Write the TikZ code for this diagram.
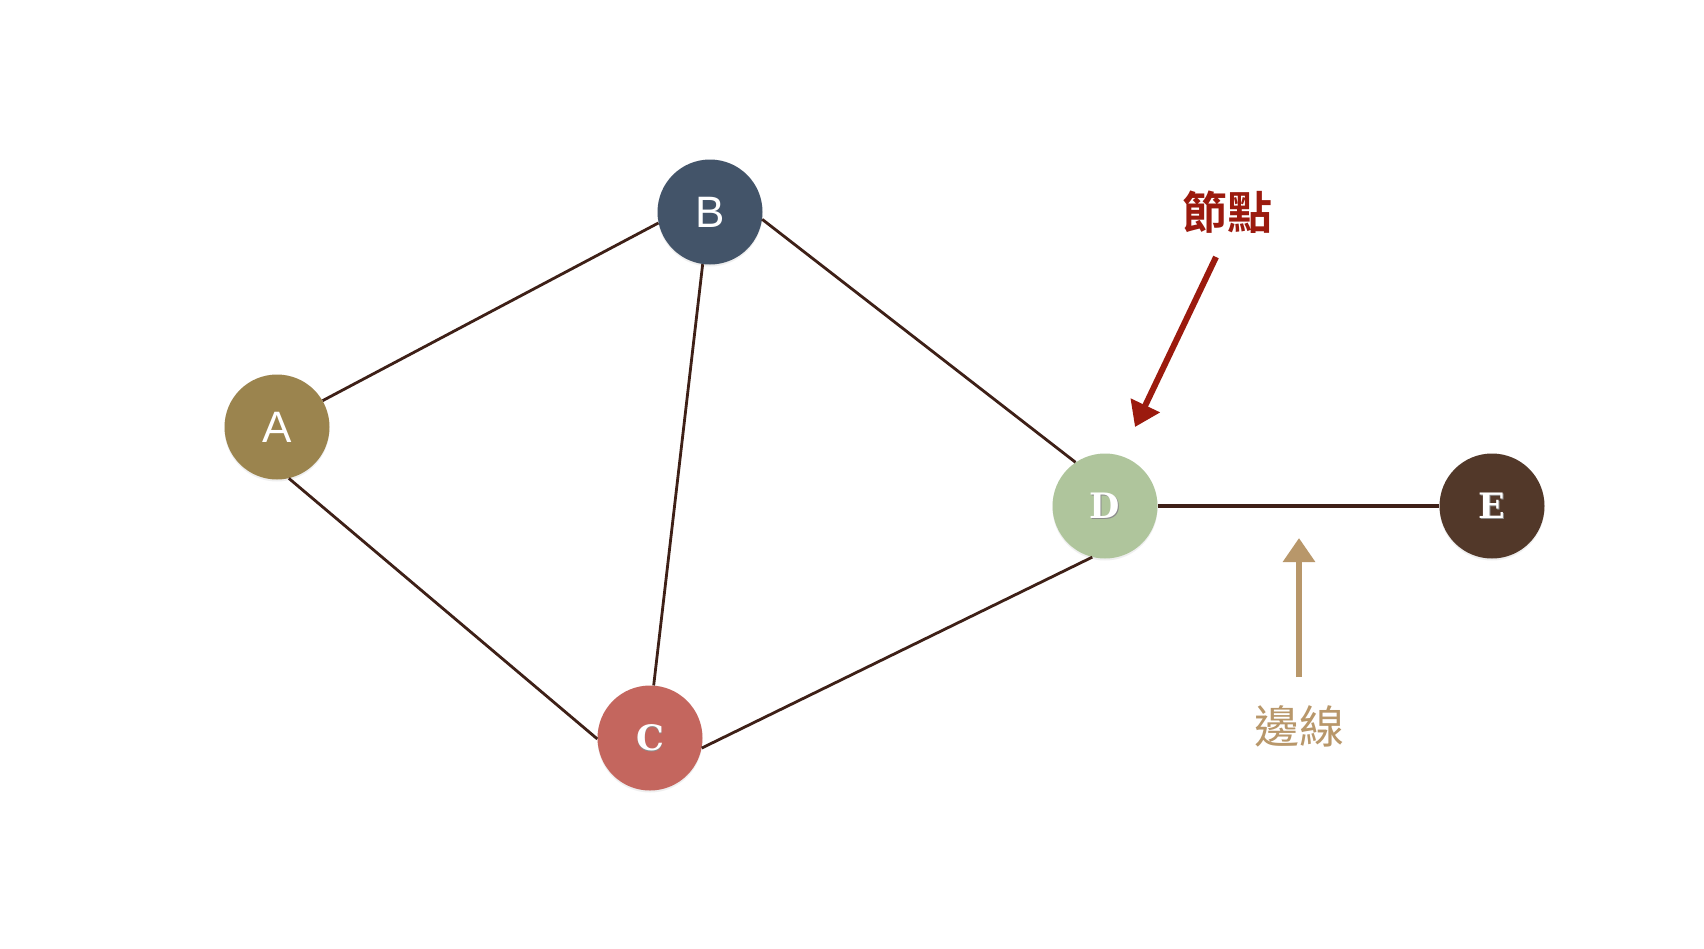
\documentclass[tikz,border=0pt]{standalone}
\usepackage{fontspec}
\usetikzlibrary{arrows.meta,shadows}
\newfontfamily\cjkbold{Noto Sans CJK TC Bold}
\newfontfamily\cjkreg{Noto Sans CJK TC}
\newfontfamily\sansf{Liberation Sans}
\newfontfamily\seriff{DejaVu Serif}
\definecolor{colA}{HTML}{9B844E}
\definecolor{colB}{HTML}{435469}
\definecolor{colC}{HTML}{C4665E}
\definecolor{colD}{HTML}{AFC59C}
\definecolor{colE}{HTML}{523829}
\definecolor{edgec}{HTML}{3E2017}
\definecolor{redc}{HTML}{9B1A0E}
\definecolor{tanc}{HTML}{B8976A}
\newcommand{\shtxt}[1]{\makebox[0pt][l]{\hspace{0.8pt}\raisebox{-1.2pt}{\textcolor{black!45}{#1}}}#1}
\begin{document}
\begin{tikzpicture}[x=1pt,y=-1pt,
  vert/.style={circle,minimum size=105pt,inner sep=0pt,text=white,
    drop shadow={opacity=0.12,shadow xshift=0pt,shadow yshift=-2pt}},
  sanslab/.style={font=\sansf\fontsize{44}{48}\selectfont},
  seriflab/.style={font=\seriff\bfseries\fontsize{35}{38}\selectfont},
  edge/.style={draw=edgec,line width=2.8pt},
  pointer/.style={line width=6pt,-{Triangle[length=24pt,width=31pt]}}]
\useasboundingbox (0,0) rectangle (1704,948);
\fill[white] (0,0) rectangle (1704,948);
\node[vert,fill=colA,sanslab] (A) at (277,427) {A};
\node[vert,fill=colB,sanslab] (B) at (710,212) {B};
\node[vert,fill=colC,seriflab] (C) at (650,738) {\shtxt{C}};
\node[vert,fill=colD,seriflab] (D) at (1105,506) {\shtxt{D}};
\node[vert,fill=colE,seriflab] (E) at (1492,506) {\shtxt{E}};
\draw[edge] (A.30) -- (B.192);
\draw[edge] (B.262) -- (C.86);
\draw[edge] (A.283) -- (C.181);
\draw[edge] (C.349) -- (D.256);
\draw[edge] (B.352) -- (D.124);
\draw[edge,line width=3.2pt] (D.east) -- (E.west);
\node[text=redc,font=\cjkbold\fontsize{45}{50}\selectfont] (nodelabel) at (1227,212) {節點};
\node[text=tanc,font=\cjkreg\fontsize{45}{50}\selectfont] (edgelabel) at (1299,726) {邊線};
\coordinate (r1) at (1216,257);
\coordinate (r2) at (1135,427);
\coordinate (t1) at (1299,677);
\coordinate (t2) at (1299,538);
\draw[pointer,redc] (r1) -- (r2);
\draw[pointer,tanc] (t1) -- (t2);
\end{tikzpicture}
\end{document}
